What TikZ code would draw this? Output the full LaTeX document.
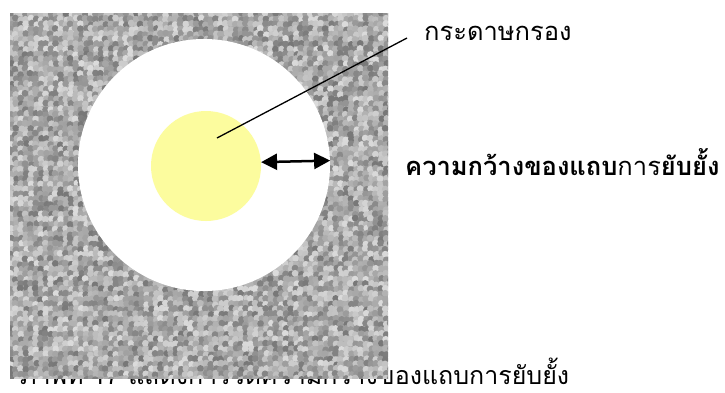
\documentclass[tikz,border=0pt]{standalone}
\usepackage{fontspec}
\newfontfamily\thai[Script=Thai]{Loma}
\usetikzlibrary{arrows.meta}
\definecolor{diskyellow}{RGB}{252,252,158}
\tikzset{
  thaitext/.style={font=\thai\fontsize{25.5}{30}\selectfont, inner sep=0pt},
  captext/.style={font=\thai\fontsize{25}{30}\selectfont, inner sep=0pt},
  zonestyle/.style={circle, fill=white, inner sep=0pt, minimum size=252pt},
  diskstyle/.style={circle, fill=diskyellow, inner sep=0pt, minimum size=110pt},
  pointer/.style={line width=1.3pt, black},
  measure/.style={line width=2.5pt, black, {Triangle[length=16pt,width=16pt]}-{Triangle[length=16pt,width=16pt]}}
}
\begin{document}
\begin{tikzpicture}[x=1pt,y=-1pt]
\useasboundingbox (0,0) rectangle (725,392);
% caption, partly hidden under the texture
\node[captext, anchor=base west] (cap) at (20,384) {ภาพที่ 17 แสดงการวัดความกว้างของแถบการยับยั้ง};
% noisy texture
\begin{scope}
  \clip (10,13) rectangle (388,378);
  \fill[black!33] (10,13) rectangle (388,378);
  \pgfmathsetseed{7}
  \foreach \i in {0,...,76}{
    \foreach \j in {0,...,73}{
      \pgfmathtruncatemacro\g{14+40*rnd}
      \pgfmathsetmacro\dx{5*\i+10+2*rnd}
      \pgfmathsetmacro\dy{5*\j+13+2*rnd}
      \fill[black!\g] (\dx,\dy) circle (3.4);
    }
  }
\end{scope}
% inhibition zone and paper disc
\node[zonestyle] (zone) at (204,165) {};
\node[diskstyle] (disk) at (206,166) {};
\coordinate (tip) at (217,138);
\coordinate (lineend) at (407,38);
\draw[pointer] (tip) -- (lineend);
\draw[measure] (disk.4) -- (zone.2);
% labels
\node[thaitext, anchor=west] (paper) at (424,33) {กระดาษกรอง};
\node[thaitext, anchor=west] (width) at (405,162) {\bfseries ความกว้างของแถบ\mdseries การ\bfseries ยับยั้ง};
\end{tikzpicture}
\end{document}
